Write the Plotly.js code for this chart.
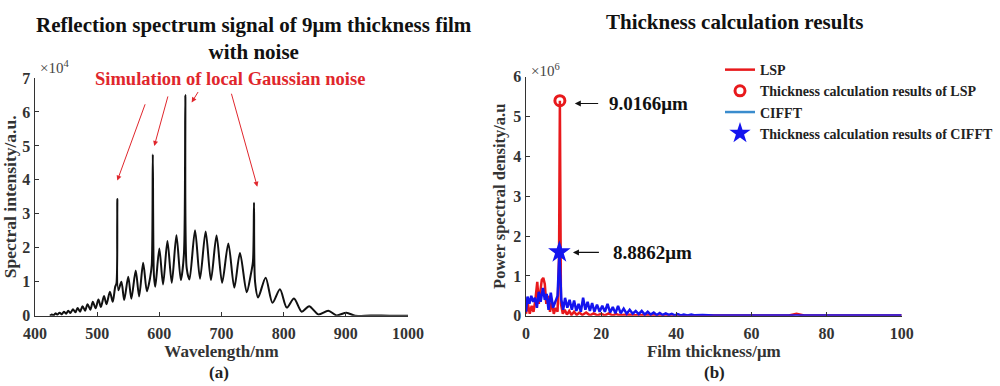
<!DOCTYPE html>
<html>
<head>
<meta charset="utf-8">
<script src="https://cdn.plot.ly/plotly-3.0.1.min.js"></script>
<style>html,body{margin:0;padding:0;background:#fff}#chart{width:1000px;height:386px}</style>
</head>
<body>
<div id="chart"></div>
<script>
// ---- Panel (a): reflection spectrum (intensity in units of 1e4) ----
const wavelength = [424,427,430,433,436,439.5,443,446.5,450,453.5,457,461,465,468.5,472.5,476.5,480.5,484.5,489,493,497.5,502,506,511,515,520.5,525,529,531,532.4,534,539,543.5,550,555,562,567.5,574,580,585,587.8,589.5,591.3,593.5,600,606,613,620,627.5,634.5,639.5,641.8,644,648.5,657.4,665.4,674.5,683,692,701,711,720.6,729.7,740.5,747,750.6,752.3,754,759,771,782,794,805,816.6,829,841,855.7,871.8,885,901,915,940,970,1000];
const intensity  = [0,0.04,0.015,0.07,0.03,0.09,0.04,0.12,0.06,0.15,0.08,0.19,0.10,0.23,0.12,0.28,0.15,0.34,0.18,0.41,0.22,0.48,0.26,0.58,0.34,0.71,0.41,0.85,0.95,3.44,0.75,1.0,0.46,1.15,0.5,1.33,0.57,1.56,0.72,1.1,1.5,4.75,1.2,0.85,1.98,0.92,2.2,0.97,2.37,1.05,1.8,6.5,1.4,1.07,2.52,1.09,2.48,1.05,2.36,0.97,2.13,0.83,1.85,0.69,1.2,1.6,3.33,1.0,0.54,1.12,0.38,0.78,0.24,0.51,0.12,0.28,0.04,0.15,0.01,0.09,0.0,0.01,0.0,0.0];
const xTicksA = [400,500,600,700,800,900,1000];
const yTicksA = [0,1,2,3,4,5,6,7];

// ---- Panel (b): thickness spectra (PSD in units of 1e6) ----
const thickLSP = [0,0.5,1.0,1.5,2.0,2.5,3.0,3.4,3.8,4.2,4.6,5.0,5.4,5.9,6.4,6.9,7.4,7.9,8.4,8.8,9.0166,9.3,9.8,10.3,10.9,11.5,12.1,12.8,13.5,14.2,15,16,17,18,19,20,21,22,23,24,25,27,29,32,35,40,50,60,70,72,74,100];
const psdLSP   = [0.05,0.3,0.05,0.25,0.1,0.4,0.85,0.3,0.6,0.9,0.95,0.8,0.3,0.5,0.1,0.35,0.05,0.2,0.1,1.5,5.4,0.3,0.05,0.15,0.03,0.12,0.02,0.1,0.02,0.08,0.02,0.08,0.01,0.06,0.01,0.05,0.01,0.06,0.01,0.04,0.01,0.03,0.01,0.02,0.005,0.01,0.003,0.003,0.005,0.05,0.005,0.003];
const thickCIFFT = [0,0.4,0.9,1.4,1.9,2.4,2.9,3.4,3.9,4.5,5.0,5.5,6.0,6.6,7.2,7.8,8.4,8.8862,9.4,9.9,10.4,11.0,11.6,12.2,12.8,13.4,14.0,14.6,15.2,15.8,16.4,17.0,17.6,18.2,18.9,19.6,20.3,21.0,21.7,22.4,23.1,23.8,24.5,25.2,26.0,26.8,27.6,28.4,29.2,30.0,30.8,31.6,32.4,33.2,34.0,34.8,35.6,36.4,37.2,38.0,38.8,39.6,40.4,41.2,42,43,44,45,47,50,55,60,70,80,90,100];
const psdCIFFT   = [0.1,0.48,0.3,0.5,0.35,0.45,0.2,0.6,0.35,0.7,0.4,0.55,0.15,0.58,0.2,0.35,0.5,1.6,0.4,0.15,0.45,0.2,0.4,0.15,0.38,0.12,0.3,0.1,0.45,0.15,0.35,0.12,0.32,0.1,0.28,0.1,0.25,0.1,0.3,0.08,0.22,0.06,0.25,0.06,0.18,0.05,0.15,0.05,0.12,0.04,0.12,0.03,0.1,0.03,0.08,0.02,0.07,0.02,0.06,0.02,0.05,0.01,0.04,0.01,0.03,0.01,0.03,0.01,0.02,0.005,0.01,0.005,0.005,0.005,0.005,0.005];
const resultLSP = {t: [9.0166], p: [5.4], label: '9.0166μm'};
const resultCIFFT = {t: [8.8862], p: [1.6], label: '8.8862μm'};
const xTicksB = [0,20,40,60,80,100];
const yTicksB = [0,1,2,3,4,5,6];

// noise spike locations in panel (a)
const spikeL = [532.4, 589.5, 641.8, 752.3];

const FONT = 'Liberation Serif, Times New Roman, serif';
const bold = (s, c) => ({family: FONT, size: s, color: c || '#222', weight: 'bold'});

const traces = [
  {x: wavelength, y: intensity, type: 'scatter', mode: 'lines', xaxis: 'x', yaxis: 'y',
   line: {color: '#111', width: 2, shape: 'spline', smoothing: 0.8}, showlegend: false, hoverinfo: 'skip'},
  {x: thickLSP, y: psdLSP, type: 'scatter', mode: 'lines', xaxis: 'x2', yaxis: 'y2', name: 'LSP',
   line: {color: '#e8191c', width: 2.5}, legendrank: 1},
  {x: thickCIFFT, y: psdCIFFT, type: 'scatter', mode: 'lines', xaxis: 'x2', yaxis: 'y2', name: 'CIFFT',
   line: {color: '#1414ee', width: 2.5}, showlegend: false},
  {x: [null], y: [null], type: 'scatter', mode: 'lines', xaxis: 'x2', yaxis: 'y2', name: 'CIFFT',
   line: {color: '#3a8ccd', width: 2.5}, legendrank: 3},
  {x: resultLSP.t, y: resultLSP.p, type: 'scatter', mode: 'markers', xaxis: 'x2', yaxis: 'y2',
   name: 'Thickness calculation results of LSP',
   marker: {symbol: 'circle-open', size: 10, color: '#e8191c', line: {width: 3, color: '#e8191c'}}, legendrank: 2},
  {x: resultCIFFT.t, y: resultCIFFT.p, type: 'scatter', mode: 'markers', xaxis: 'x2', yaxis: 'y2',
   name: 'Thickness calculation results of CIFFT',
   marker: {symbol: 'star', size: 17, color: '#1414ee', line: {width: 0}}, legendrank: 4}
];

const axBase = {showline: true, linecolor: '#333', linewidth: 1.5, ticks: 'inside', ticklen: 4, tickwidth: 1,
  tickcolor: '#333', showgrid: false, zeroline: false, mirror: false, tickfont: bold(16, '#333'), fixedrange: true};

const redArrow = {xref: 'x', yref: 'y', axref: 'x', ayref: 'y', text: '', showarrow: true,
  arrowhead: 2, arrowsize: 1, arrowwidth: 1, arrowcolor: '#e0262c'};

const annotations = [
  {xref: 'paper', yref: 'paper', x: 0.2535, y: 1 - 38/386, text: 'Reflection spectrum signal of 9μm thickness film<br>with noise',
   showarrow: false, font: bold(21, '#111'), xanchor: 'center', yanchor: 'middle'},
  {xref: 'paper', yref: 'paper', x: 0.734, y: 1 - 22/386, text: 'Thickness calculation results',
   showarrow: false, font: bold(21, '#111'), xanchor: 'center', yanchor: 'middle'},
  {xref: 'paper', yref: 'paper', x: 0.2295, y: 1 - 79/386, text: 'Simulation of local Gaussian noise',
   showarrow: false, font: bold(18.5, '#e0262c'), xanchor: 'center', yanchor: 'middle'},
  {xref: 'paper', yref: 'paper', x: 0.038, y: 1 - 67/386, text: '×10<sup>4</sup>', showarrow: false,
   font: {family: FONT, size: 15, color: '#444'}, xanchor: 'left', yanchor: 'middle'},
  {xref: 'paper', yref: 'paper', x: 0.529, y: 1 - 70/386, text: '×10<sup>6</sup>', showarrow: false,
   font: {family: FONT, size: 15, color: '#444'}, xanchor: 'left', yanchor: 'middle'},
  {xref: 'paper', yref: 'paper', x: 0.219, y: 1 - 372/386, text: '(a)', showarrow: false, font: bold(17, '#222'),
   xanchor: 'center', yanchor: 'middle'},
  {xref: 'paper', yref: 'paper', x: 0.714, y: 1 - 372/386, text: '(b)', showarrow: false, font: bold(17, '#222'),
   xanchor: 'center', yanchor: 'middle'},
  // red arrows to the noise spikes
  Object.assign({}, redArrow, {x: spikeL[0], y: 3.98, ax: 578, ay: 6.27}),
  Object.assign({}, redArrow, {x: 591.9, y: 5.0, ax: 614.4, ay: 6.5}),
  Object.assign({}, redArrow, {x: 652, y: 6.28, ax: 663.8, ay: 6.63}),
  Object.assign({}, redArrow, {x: 757.6, y: 3.8, ax: 715.3, ay: 6.58}),
  // result labels in panel (b), each with its arrow
  {xref: 'x2', yref: 'y2', axref: 'x2', ayref: 'y2', x: 13.0, y: resultLSP.p[0] - 0.07,
   ax: 21.6, ay: resultLSP.p[0] - 0.07, xanchor: 'left', yanchor: 'middle',
   text: resultLSP.label, font: bold(19, '#111'), showarrow: true, arrowhead: 2, arrowsize: 1, arrowwidth: 1.2,
   arrowcolor: '#111', startstandoff: 9},
  {xref: 'x2', yref: 'y2', axref: 'x2', ayref: 'y2', x: 12.5, y: resultCIFFT.p[0] - 0.01,
   ax: 22.6, ay: resultCIFFT.p[0] - 0.01, xanchor: 'left', yanchor: 'middle',
   text: resultCIFFT.label, font: bold(19, '#111'), showarrow: true, arrowhead: 2, arrowsize: 1, arrowwidth: 1.2,
   arrowcolor: '#111', startstandoff: 12}
];

const layout = {
  width: 1000, height: 386,
  margin: {l: 0, r: 0, t: 0, b: 0},
  paper_bgcolor: '#fff', plot_bgcolor: '#fff',
  font: {family: FONT},
  xaxis: Object.assign({}, axBase, {domain: [0.035, 0.408], range: [400, 1000], tickvals: xTicksA, anchor: 'y',
    ticklabelstandoff: 3,
    title: {text: 'Wavelength/nm', font: bold(17, '#333'), standoff: 3}}),
  yaxis: Object.assign({}, axBase, {domain: [0.182, 0.798], range: [0, 7], tickvals: yTicksA, anchor: 'x',
    title: {text: 'Spectral intensity/a.u.', font: bold(17.5, '#333'), standoff: 3}}),
  xaxis2: Object.assign({}, axBase, {domain: [0.526, 0.9017], range: [0, 100], tickvals: xTicksB, anchor: 'y2',
    ticklabelstandoff: 3,
    title: {text: 'Film thickness/μm', font: bold(17, '#333'), standoff: 3}}),
  yaxis2: Object.assign({}, axBase, {domain: [0.182, 0.801], range: [0, 6], tickvals: yTicksB, anchor: 'x2',
    title: {text: 'Power spectral density/a.u', font: bold(16.5, '#333'), standoff: 3}}),
  legend: {x: 0.72, y: 0.86, xanchor: 'left', yanchor: 'top', bgcolor: 'rgba(0,0,0,0)',
    font: bold(14, '#222'), tracegroupgap: 0, itemwidth: 30},
  annotations: annotations
};

Plotly.newPlot('chart', traces, layout, {staticPlot: true, displayModeBar: false});
</script>
</body>
</html>
